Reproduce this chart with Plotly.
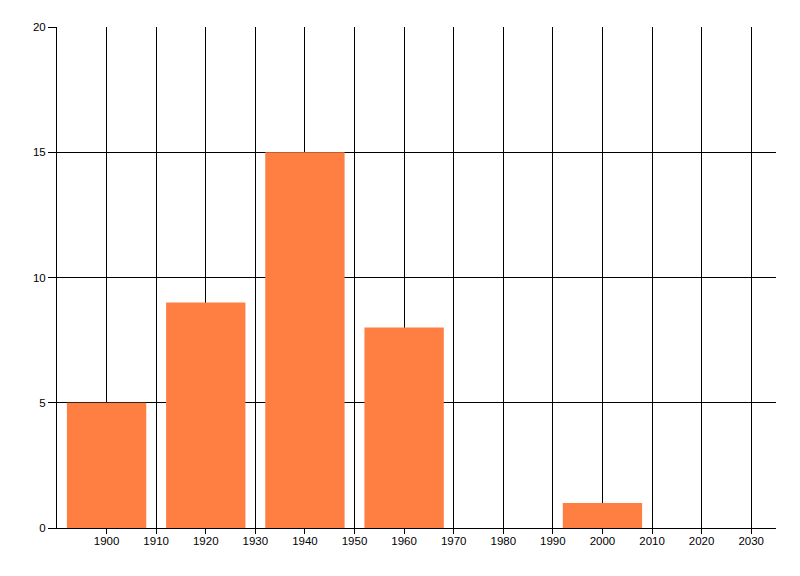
import plotly.graph_objects as go

decades = [1900, 1920, 1940, 1960, 2000]
counts = [5, 9, 15, 8, 1]
x_ticks = [1900, 1910, 1920, 1930, 1940, 1950, 1960, 1970, 1980, 1990, 2000, 2010, 2020, 2030]
x_tick_labels = [str(v) for v in x_ticks]
y_ticks = [0, 5, 10, 15, 20]

fig = go.Figure()
fig.add_trace(go.Bar(
    x=decades, y=counts, width=16,
    marker=dict(color="#FF7F42", line=dict(width=0)),
))

font = dict(family="Liberation Sans, Arial, sans-serif", size=11.5, color="black")
fig.update_layout(
    width=792, height=568,
    margin=dict(l=49, r=24, t=19, b=48, autoexpand=False),
    paper_bgcolor="white", plot_bgcolor="white",
    showlegend=False,
    font=font,
    xaxis=dict(
        range=[1890, 2035], tickvals=x_ticks, ticktext=x_tick_labels,
        showgrid=True, gridcolor="black", gridwidth=1,
        showline=True, linecolor="black", linewidth=1,
        ticks="outside", ticklen=5, tickcolor="black", tickwidth=1,
        zeroline=False, tickfont=font, automargin=False, ticklabelstandoff=-3,
    ),
    yaxis=dict(
        range=[0, 20], tickvals=y_ticks,
        showgrid=True, gridcolor="black", gridwidth=1,
        showline=True, linecolor="black", linewidth=1,
        ticks="outside", ticklen=8, tickcolor="black", tickwidth=1,
        zeroline=False, tickfont=font, ticklabelstandoff=0, automargin=False,
    ),
)
fig.write_html("out.html")
